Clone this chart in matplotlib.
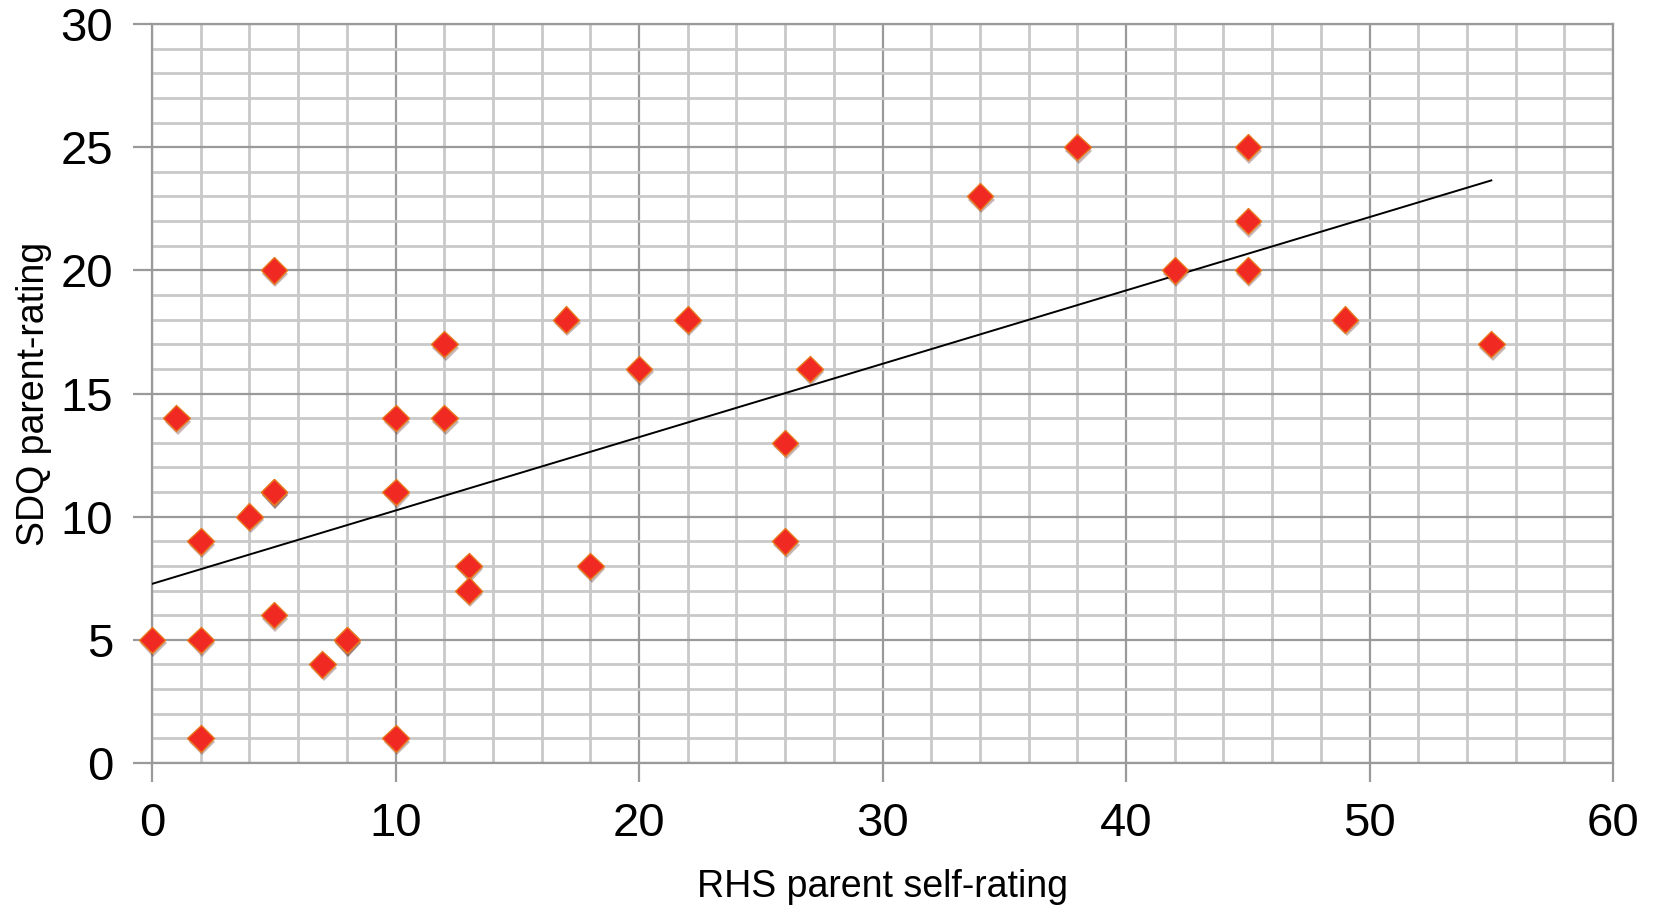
import matplotlib
matplotlib.use("Agg")
import matplotlib.pyplot as plt
import matplotlib.patheffects as pe
import numpy as np

# RHS parent self-rating vs SDQ parent-rating
rhs = [0, 1, 2, 2, 2, 4, 5, 5, 5, 5, 7, 8, 8, 10, 10, 10, 12, 12, 13, 13,
       17, 18, 20, 22, 26, 26, 27, 34, 38, 42, 45, 45, 45, 49, 55]
sdq = [5, 14, 9, 5, 1, 10, 20, 11, 11, 6, 4, 5, 5, 14, 11, 1, 17, 14, 8, 7,
       18, 8, 16, 18, 13, 9, 16, 23, 25, 20, 25, 22, 20, 18, 17]

x_ticks = [0, 10, 20, 30, 40, 50, 60]
y_ticks = [0, 5, 10, 15, 20, 25, 30]

plt.rcParams['font.family'] = ['Liberation Sans', 'DejaVu Sans']

fig = plt.figure(figsize=(16.58, 9.07), dpi=100)
ax = fig.add_axes([0.0917, 0.1588, 0.8812, 0.8147])

ax.set_xlim(0, 60)
ax.set_ylim(0, 30)
ax.set_xticks(x_ticks)
ax.set_yticks(y_ticks)
ax.set_xticks(np.arange(0, 61, 2), minor=True)
ax.set_yticks(np.arange(0, 31, 1), minor=True)

ax.grid(which='minor', color='#c9c9c9', linewidth=2.0)
ax.grid(which='major', color='#9a9a9a', linewidth=1.6)
ax.set_axisbelow(True)

for s in ax.spines.values():
    s.set_color('#9a9a9a')
    s.set_linewidth(1.6)

ax.tick_params(which='major', length=14, width=1.6, color='#9a9a9a',
               labelsize=34, pad=14)
ax.tick_params(which='minor', length=0)

# linear trend line
k, b = np.polyfit(rhs, sdq, 1)
tx = np.array([0, max(rhs)])
ax.plot(tx, k * tx + b, color='black', linewidth=1.4, zorder=3)

ax.plot(rhs, sdq, linestyle='none', marker='D', markersize=13.5,
        markerfacecolor='#f02a22', markeredgecolor='#e8781e',
        markeredgewidth=1.0, zorder=4, clip_on=False,
        path_effects=[pe.SimplePatchShadow(offset=(1, -2.5), alpha=0.3),
                      pe.Normal()])

ax.set_xlabel('RHS parent self-rating', fontsize=27, labelpad=17)
ax.set_ylabel('SDQ parent-rating', fontsize=27, labelpad=6)

fig.savefig('out.png', dpi=100)
